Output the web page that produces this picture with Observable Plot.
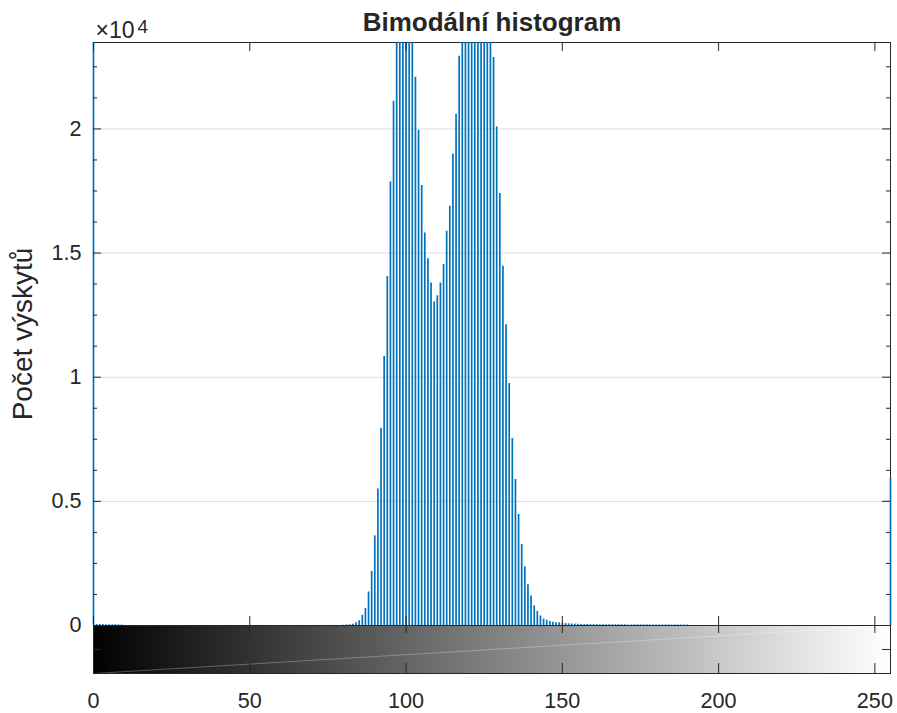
<!DOCTYPE html>
<html><head><meta charset="utf-8">
<script src="https://cdn.jsdelivr.net/npm/d3@7"></script>
<script src="https://cdn.jsdelivr.net/npm/@observablehq/plot@0.6"></script>
<style>
html,body{margin:0;padding:0;background:#fff;}
#chart{position:relative;width:897px;height:713px;overflow:hidden;}
#chart svg{position:absolute;left:0;background:transparent;}
</style></head><body><div id="chart"></div>
<script>
// ---- data ----
const title = "Bimodální histogram";
const yLabel = "Počet výskytů";
const exponentBase = "×10";
const exponent = "4";
const bins = d3.range(256); // gray levels 0..255
const counts = [
  30000, 45, 40, 40, 35, 35, 30, 30, 25, 20, 0, 0, 0, 0, 0, 0,
  0, 0, 0, 0, 0, 0, 0, 0, 0, 0, 0, 0, 0, 0, 0, 0,
  0, 0, 0, 0, 0, 0, 0, 0, 0, 0, 0, 0, 0, 0, 0, 0,
  0, 0, 0, 0, 0, 0, 0, 0, 0, 0, 0, 0, 0, 0, 0, 0,
  0, 0, 0, 0, 0, 0, 0, 0, 0, 0, 0, 0, 0, 0, 0, 0,
  10, 20, 30, 55, 110, 190, 410, 690, 1350, 2180, 3610, 5500, 7930, 10835, 14060, 17863,
  21117, 24800, 27000, 28500, 28800, 27200, 25000, 22085, 19948, 17718, 15806, 14774, 13790, 13024, 13282, 13790,
  14544, 15875, 16883, 18992, 20593, 22931, 24600, 26200, 27500, 28400, 29000, 29000, 28500, 27400, 26000, 24400,
  22879, 20081, 17395, 14464, 12113, 9746, 7530, 5880, 4470, 3260, 2360, 1640, 1190, 790, 570, 385,
  260, 210, 160, 130, 115, 110, 95, 75, 70, 60, 55, 50, 45, 40, 40, 35,
  35, 30, 30, 30, 30, 30, 30, 30, 30, 30, 30, 25, 25, 25, 25, 25,
  25, 25, 25, 25, 25, 20, 20, 20, 20, 20, 20, 20, 20, 20, 20, 0,
  0, 0, 0, 0, 0, 0, 0, 0, 0, 0, 0, 0, 0, 0, 0, 0,
  0, 0, 0, 0, 0, 0, 0, 0, 0, 0, 0, 0, 0, 0, 0, 0,
  0, 0, 0, 0, 0, 0, 0, 0, 0, 0, 0, 0, 0, 0, 0, 0,
  0, 0, 0, 0, 0, 0, 0, 0, 0, 0, 0, 0, 0, 0, 0, 5950
];
const xDomain = [0, 255];
const yDomain = [0, 23480];
const yTicks = [0, 5000, 10000, 15000, 20000];
const yTickLabels = ["0", "0.5", "1", "1.5", "2"];
const yMinorTicks = [1250, 2500, 3750, 6250, 7500, 8750, 11250, 12500, 13750, 16250, 17500, 18750, 21250, 22500];
const xTicks = [0, 50, 100, 150, 200, 250];
const xTickLabels = ["0", "50", "100", "150", "200", "250"];
const cbDomain = [0, 1];
const cbTicks = [0.5];

// ---- layout / style ----
const W = 897, ML = 93, MR = 7, MT = 42;
const mainH = 626, MB = 1;
const frameW = W - ML - MR;
const frameH = mainH - MT - MB;
const ink = "#262626";
const font = "'Liberation Sans', Arial, Helvetica, sans-serif";
const tickFs = 21.6, labelFs = 28, titleFs = 26;
const majorLen = 8, minorLen = 4, xTickLen = 9;

const main = Plot.plot({
  width: W, height: mainH,
  marginLeft: ML, marginRight: MR, marginTop: MT, marginBottom: MB,
  style: {fontFamily: font, color: ink, background: "transparent", overflow: "visible"},
  x: {domain: xDomain, axis: null},
  y: {domain: yDomain, axis: null},
  marks: [
    Plot.ruleY(yTicks.slice(1), {stroke: "#dedede", strokeWidth: 1}),
    Plot.frame({stroke: ink, strokeWidth: 1}),
    Plot.ruleX(bins, {x: d => d, y1: 0, y2: (d, i) => Math.min(counts[i], yDomain[1]), stroke: "#0072BD", strokeWidth: 1.7}),
    // inward ticks
    Plot.tickY(yTicks, {y: d => d, insetRight: frameW - majorLen, stroke: ink}),
    Plot.tickY(yTicks, {y: d => d, insetLeft: frameW - majorLen, stroke: ink}),
    Plot.tickY(yMinorTicks, {y: d => d, insetRight: frameW - minorLen, stroke: ink}),
    Plot.tickY(yMinorTicks, {y: d => d, insetLeft: frameW - minorLen, stroke: ink}),
    Plot.tickX(xTicks, {x: d => d, insetBottom: frameH - xTickLen, stroke: ink}),
    Plot.tickX(xTicks, {x: d => d, insetTop: frameH - xTickLen, stroke: ink}),
    // y tick labels
    Plot.text(yTicks, {y: d => d, text: (d, i) => yTickLabels[i], frameAnchor: "left", textAnchor: "end", lineAnchor: "middle", dx: -12, fontSize: tickFs, fill: ink}),
    // exponent
    Plot.text([exponentBase], {frameAnchor: "top-left", textAnchor: "start", lineAnchor: "bottom", dx: 2, dy: -5, fontSize: 23, fill: ink}),
    Plot.text([exponent], {frameAnchor: "top-left", textAnchor: "start", lineAnchor: "bottom", dx: 44, dy: -10, fontSize: 19, fill: ink}),
    // y label
    Plot.text([yLabel], {frameAnchor: "left", textAnchor: "middle", lineAnchor: "middle", rotate: -90, dx: -70, fontSize: labelFs, fill: ink}),
    // title
    Plot.text([title], {frameAnchor: "top", textAnchor: "middle", lineAnchor: "middle", dy: -20, fontSize: titleFs, fontWeight: "bold", fill: ink})
  ]
});
main.style.top = "0px";

const cbH = 88, cbMB = 40;
const cbFrameH = cbH - cbMB;
const grayOf = d => `rgb(${d},${d},${d})`;
const cb = Plot.plot({
  width: W, height: cbH,
  marginLeft: ML, marginRight: MR, marginTop: 0, marginBottom: cbMB,
  style: {fontFamily: font, color: ink, background: "transparent", overflow: "visible"},
  x: {domain: xDomain, axis: null},
  y: {domain: cbDomain, axis: null},
  marks: [
    Plot.rect(bins, {x1: d => d - 0.5, x2: d => d + 0.6, y1: cbDomain[0], y2: cbDomain[1], fill: grayOf, shapeRendering: "crispEdges", clip: true}),
    Plot.link([0], {x1: xDomain[0], x2: xDomain[1], y1: cbDomain[0], y2: cbDomain[1], stroke: "white", strokeOpacity: 0.28, strokeWidth: 1}),
    Plot.frame({stroke: ink, strokeWidth: 1}),
    Plot.tickX(xTicks, {x: d => d, insetBottom: cbFrameH - 8, stroke: ink}),
    Plot.tickX(xTicks, {x: d => d, insetTop: cbFrameH - 10, stroke: ink}),
    Plot.tickY(cbTicks, {y: d => d, insetRight: frameW - 8, stroke: ink}),
    Plot.tickY(cbTicks, {y: d => d, insetLeft: frameW - 8, stroke: ink}),
    Plot.text(xTicks, {x: d => d, text: (d, i) => xTickLabels[i], frameAnchor: "bottom", lineAnchor: "top", dy: 19, fontSize: tickFs, fill: ink})
  ]
});
cb.style.top = "625px";

const chart = document.getElementById("chart");
chart.appendChild(main);
chart.appendChild(cb);
</script>
</body></html>
